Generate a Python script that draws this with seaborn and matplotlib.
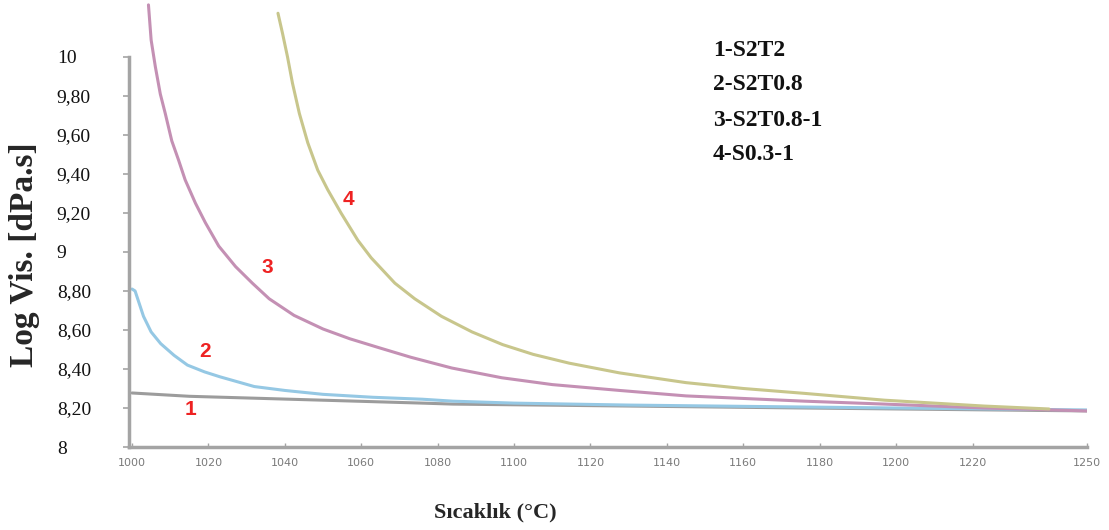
import matplotlib
matplotlib.use("Agg")
import matplotlib.pyplot as plt
import seaborn as sns
import pandas as pd

# ---- data ----
t1 = [1000, 1015, 1050, 1076, 1084, 1176, 1250]
v1 = [8.277, 8.26, 8.24, 8.225, 8.22, 8.20, 8.185]

t2 = [1000, 1000.8, 1003, 1005, 1007.5, 1011, 1014.5, 1019, 1023, 1032, 1040,
      1050, 1063, 1076, 1084, 1100, 1130, 1176, 1200, 1225, 1250]
v2 = [8.81, 8.80, 8.67, 8.59, 8.53, 8.47, 8.42, 8.385, 8.36, 8.31, 8.29,
      8.27, 8.255, 8.245, 8.235, 8.225, 8.215, 8.205, 8.20, 8.195, 8.19]

t3 = [1004.3, 1005.0, 1006.1, 1007.4, 1008.7, 1010.4, 1012.2, 1013.9, 1016.6,
      1019.2, 1022.7, 1027.1, 1031.5, 1035.9, 1042.4, 1050, 1057, 1064.5, 1073,
      1083.7, 1096.8, 1110, 1127.6, 1145, 1176, 1197, 1223, 1250]
v3 = [10.267, 10.087, 9.95, 9.81, 9.71, 9.57, 9.47, 9.37, 9.25,
      9.15, 9.03, 8.925, 8.84, 8.76, 8.675, 8.605, 8.555, 8.51, 8.46,
      8.405, 8.355, 8.32, 8.29, 8.262, 8.235, 8.22, 8.20, 8.185]

t4 = [1038.2, 1039.4, 1040.7, 1042.0, 1043.8, 1046.0, 1048.6, 1051.2, 1054.7,
      1059.1, 1062.6, 1068.8, 1074.0, 1081, 1089, 1097, 1105, 1114.4, 1127.6,
      1145, 1160, 1176, 1197, 1223, 1240]
v4 = [10.224, 10.12, 10.0, 9.865, 9.71, 9.56, 9.42, 9.32, 9.20,
      9.06, 8.97, 8.84, 8.76, 8.67, 8.59, 8.525, 8.475, 8.43, 8.38,
      8.33, 8.30, 8.275, 8.24, 8.21, 8.195]

series_names = ["1-S2T2", "2-S2T0.8", "3-S2T0.8-1", "4-S0.3-1"]
curve_labels = ["1", "2", "3", "4"]
label_pos_t = [1015.3, 1019, 1035.3, 1056.6]
label_pos_v = [8.19, 8.49, 8.92, 9.27]

x_ticks = [1000, 1020, 1040, 1060, 1080, 1100, 1120, 1140, 1160, 1180, 1200, 1220, 1250]
y_ticks = [8, 8.2, 8.4, 8.6, 8.8, 9, 9.2, 9.4, 9.6, 9.8, 10]
y_tick_labels = ["8", "8,20", "8,40", "8,60", "8,80", "9", "9,20", "9,40", "9,60", "9,80", "10"]

colors = ["#9c9c9c", "#95c8e4", "#c490b4", "#c8c68c"]

# ---- plot ----
sns.set_style("white")
fig = plt.figure(figsize=(11.09, 5.30), dpi=100)
ax = fig.add_axes([0.1163, 0.1566, 0.8640, 0.8434])

for t, v, c in zip([t1, t2, t3, t4], [v1, v2, v3, v4], colors):
    df = pd.DataFrame({"T": t, "V": v})
    sns.lineplot(data=df, x="T", y="V", color=c, linewidth=2.2, ax=ax,
                 estimator=None, sort=True)

ax.set_xlim(999.2, 1250)
ax.set_ylim(8, 10.292)

for s in ["top", "right"]:
    ax.spines[s].set_visible(False)
for s in ["left", "bottom"]:
    ax.spines[s].set_color("#a4a4a4")
    ax.spines[s].set_linewidth(2.5)
ax.spines["left"].set_bounds(8, 10)

ax.set_yticks(y_ticks)
ax.set_yticklabels(y_tick_labels, family="Liberation Serif", fontsize=14, color="#111111")
for lab in ax.get_yticklabels():
    lab.set_ha("left")
ax.tick_params(axis="y", direction="out", length=4, width=1.2, color="#a4a4a4",
               pad=48, left=True)

ax.set_xticks(x_ticks)
ax.set_xticklabels([str(x) for x in x_ticks], family="DejaVu Sans", fontsize=8,
                   color="#7a7a7a")
ax.tick_params(axis="x", direction="in", length=3, width=1, color="#a4a4a4",
               pad=8, bottom=True)

ax.set_xlabel("Sıcaklık (°C)", family="Liberation Serif", fontweight="bold",
              fontsize=16)
ax.set_ylabel("Log Vis. [dPa.s]", family="Liberation Serif", fontweight="bold",
              fontsize=24)
ax.xaxis.set_label_coords(0.3825, -0.125)
ax.yaxis.set_label_coords(-0.093, 0.43)

for lab, tt, vv in zip(curve_labels, label_pos_t, label_pos_v):
    ax.text(tt, vv, lab, color="#ee2222", fontsize=15, fontweight="bold",
            family="Liberation Sans", ha="center", va="center")

for i, name in enumerate(series_names):
    fig.text(0.643, 1 - (50 + i * 35) / 530, name, family="Liberation Serif",
             fontweight="bold", fontsize=17, ha="left", va="center", color="#111111")

fig.savefig("out.png", dpi=100)
